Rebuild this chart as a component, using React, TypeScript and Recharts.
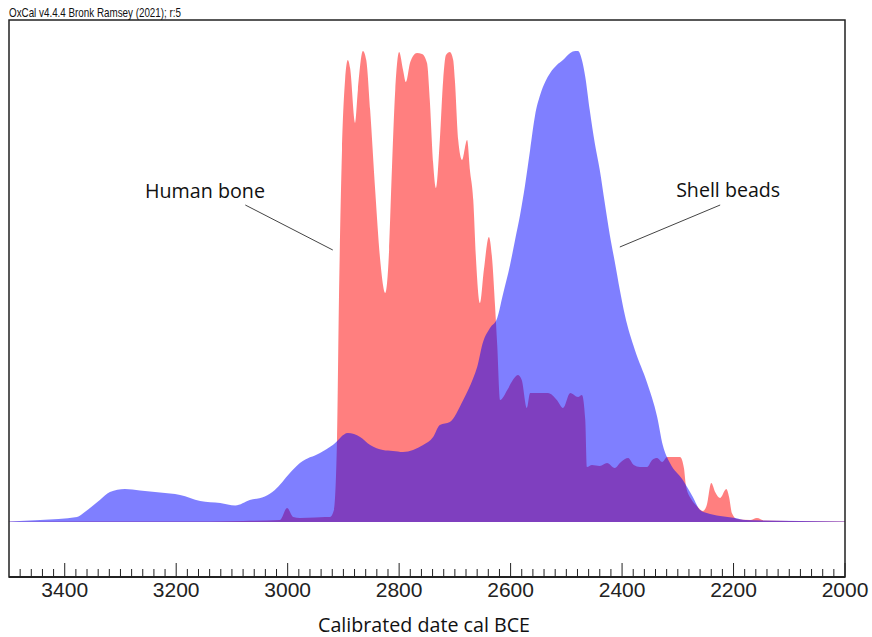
import React from 'react';
import { ComposedChart, Area, XAxis, YAxis, ReferenceArea, ReferenceLine, ReferenceDot } from 'recharts';

// Shell beads (blue) – calibrated probability (relative height units)
const shellYears = [3500, 3444, 3378, 3364, 3337, 3319, 3292, 3265, 3229, 3193, 3157, 3121, 3094, 3068, 3041, 3023, 2996, 2978, 2942, 2919, 2892, 2870, 2852, 2829, 2811, 2793, 2775, 2757, 2739, 2727, 2709, 2685, 2667, 2660, 2650, 2637, 2624, 2614, 2601, 2592, 2583, 2574, 2565, 2556, 2547, 2538, 2529, 2517, 2506, 2493, 2484, 2479, 2472, 2466, 2458, 2449, 2440, 2431, 2422, 2413, 2404, 2395, 2377, 2355, 2337, 2327, 2314, 2291, 2273, 2260, 2248, 2224, 2197, 2179, 2081, 2000];
const shellValues = [0.5, 2, 5, 10, 22, 30, 33, 31.5, 29.5, 27, 21, 19, 16.5, 22, 25.5, 32, 49, 59, 69, 77, 89, 85, 77, 72, 71, 70, 72, 77, 85, 97, 100, 122, 144, 155, 179, 194, 204, 227, 257, 282, 307, 337, 372, 407, 427, 440, 449, 457, 462, 469, 471, 471, 462, 445, 412, 379, 352, 319, 287, 260, 232, 207, 172, 139, 105, 77, 59, 42, 25, 12, 9, 6, 4, 2, 1, 0.5];

// Human bone (red)
const boneYears = [3500, 3200, 3080, 3014, 3001, 2990, 2978, 2951, 2933, 2924, 2917, 2911.5, 2908, 2902.5, 2897, 2892, 2888, 2879, 2874, 2865, 2859, 2852, 2843, 2834, 2825, 2818, 2813, 2807, 2800, 2793, 2788, 2780, 2768, 2759, 2750, 2745, 2739, 2734, 2727, 2721, 2716, 2709, 2703, 2700, 2694, 2687, 2678, 2673, 2667, 2662, 2655, 2648, 2639, 2633, 2628, 2624, 2619, 2606, 2596, 2587, 2580, 2571, 2565, 2547, 2533, 2517, 2506, 2493, 2479, 2472, 2466, 2463, 2454, 2440, 2427, 2413, 2402, 2389, 2379, 2368, 2355, 2346, 2337, 2328, 2319, 2296, 2289, 2285, 2276, 2266, 2255, 2248, 2240, 2233, 2224, 2213, 2208, 2203, 2194, 2170, 2158, 2145, 2099, 2000];
const boneValues = [0.3, 0.4, 1, 2, 14, 5, 4, 4.5, 5, 5, 12, 82, 222, 372, 442, 462, 454, 399, 432, 471, 462, 412, 332, 262, 229, 272, 352, 432, 470, 452, 440, 460, 469, 468, 459, 422, 359, 334, 382, 442, 467, 470, 462, 442, 382, 362, 382, 352, 322, 262, 219, 252, 285, 262, 217, 177, 122, 132, 142, 147, 142, 114, 129, 129, 129, 122, 114, 129, 125, 127, 102, 55, 57, 56, 59, 54, 60, 64, 57, 55, 55, 62, 64, 60, 65, 65, 54, 35, 23, 16, 11, 17, 39, 30, 24, 33, 25, 9, 3, 2, 4, 1.5, 1, 0.5];

const majorTicks = [3400, 3200, 3000, 2800, 2600, 2400, 2200, 2000];
const minorStep = 20;

const headerText = 'OxCal v4.4.4 Bronk Ramsey (2021); r:5';
const xTitle = 'Calibrated date cal BCE';
const boneLabel = 'Human bone';
const shellLabel = 'Shell beads';

const shellData = shellYears.map((year, i) => ({ year, v: shellValues[i] }));
const boneData = boneYears.map((year, i) => ({ year, v: boneValues[i] }));

const allTicks: number[] = [];
for (let y = 3500 - minorStep; y >= 2000; y -= minorStep) allTicks.push(y);

const AxisTick = (props: any) => {
  const { x, y, payload } = props;
  const v = payload.value;
  const major = majorTicks.includes(v);
  return (
    <g>
      <line x1={x} x2={x} y1={y} y2={y - (major ? 14 : 8)} stroke="#222" strokeWidth={1} />
      {major && (
        <text x={x} y={y + 20} textAnchor="middle" fontFamily="'Liberation Sans', Arial, sans-serif" fontSize={21} fill="#222">
          {v}
        </text>
      )}
    </g>
  );
};

const makeLabel = (text: string, len: number, size: number, family: string, anchor: string = 'start') => (props: any) => {
  const vb = props.viewBox || {};
  return (
    <text x={vb.x} y={vb.y} textAnchor={anchor} fontFamily={family} fontSize={size} fill="#111" textLength={len} lengthAdjust="spacingAndGlyphs">
      {text}
    </text>
  );
};

const TitleLabel = (props: any) => {
  const vb = props.viewBox || {};
  return (
    <text x={vb.x + vb.width / 2 - 3} y={vb.y + 55} textAnchor="middle" fontFamily="'Open Sans', sans-serif" fontSize={20} fill="#111" textLength={212} lengthAdjust="spacingAndGlyphs">
      {xTitle}
    </text>
  );
};

export default function App() {
  return (
    <div style={{ position: 'absolute', left: 0, top: 0, width: 872, height: 637, background: '#fff' }}>
      <ComposedChart width={872} height={637} margin={{ top: 20, right: 27, left: 9, bottom: 0 }}>
        <XAxis
          dataKey="year"
          type="number"
          domain={[2000, 3500]}
          reversed
          ticks={allTicks}
          interval={0}
          tickLine={false}
          tickSize={0}
          tickMargin={0}
          tick={<AxisTick />}
          height={60}
          axisLine={{ stroke: '#222', strokeWidth: 2 }}
          allowDataOverflow
          label={<TitleLabel />}
        />
        <YAxis type="number" domain={[-55, 502]} hide allowDataOverflow />
        <Area data={boneData} dataKey="v" type="monotone" baseValue={0} stroke="none" fill="#ff0000" fillOpacity={0.5} isAnimationActive={false} />
        <Area data={shellData} dataKey="v" type="monotone" baseValue={0} stroke="none" fill="#0000ff" fillOpacity={0.5} isAnimationActive={false} />
        <ReferenceArea x1={3500} x2={2000} y1={-55} y2={502} fill="none" stroke="#222" strokeWidth={1.5} ifOverflow="visible" />
        <ReferenceLine segment={[{ x: 3076, y: 317 }, { x: 2919, y: 272 }]} stroke="#444" strokeWidth={1} />
        <ReferenceLine segment={[{ x: 2224, y: 317 }, { x: 2404, y: 275 }]} stroke="#444" strokeWidth={1} />
        <ReferenceDot x={3256} y={324} r={0} fill="none" stroke="none" label={makeLabel(boneLabel, 120, 20, "'Open Sans', sans-serif")} />
        <ReferenceDot x={2303} y={325} r={0} fill="none" stroke="none" label={makeLabel(shellLabel, 104, 20, "'Open Sans', sans-serif")} />
        <ReferenceDot x={3500} y={505} r={0} fill="none" stroke="none" ifOverflow="visible" label={makeLabel(headerText, 172, 13, "'Liberation Sans', Arial, sans-serif")} />
      </ComposedChart>
    </div>
  );
}
